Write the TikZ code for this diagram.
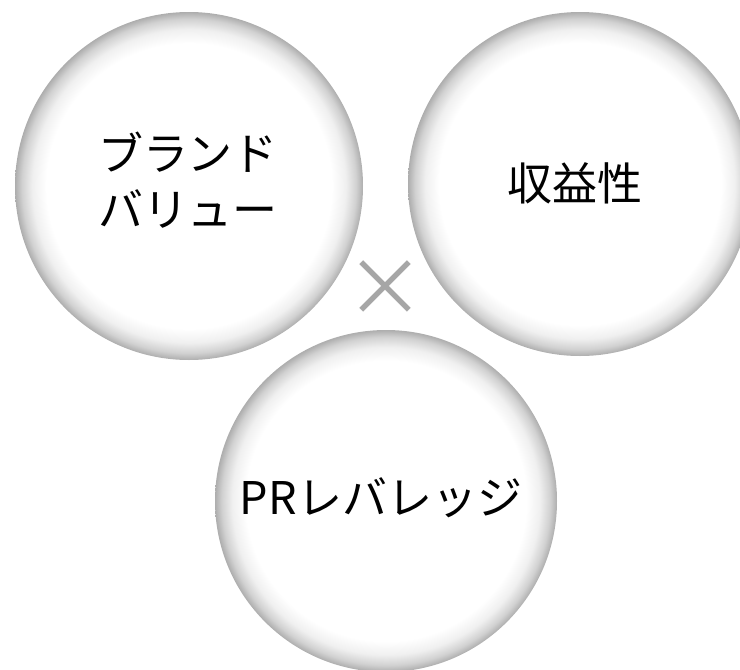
\documentclass[tikz,border=0pt]{standalone}
\usepackage{fontspec}
\newfontfamily\jpfont{Noto Sans CJK JP}
\pgfdeclareradialshading{rim}{\pgfpoint{0bp}{0bp}}{%
  color(0bp)=(white);
  color(20.5bp)=(white);
  color(22.5bp)=(black!6);
  color(24bp)=(black!18);
  color(25bp)=(black!32);
  color(50bp)=(black!32)}
\tikzset{
  ball/.style={circle, inner sep=0pt, minimum size=#1, shading=rim, align=center,
    font=\jpfont\fontsize{45}{56}\selectfont, text=black},
  timesmark/.style={inner sep=0pt, text=black!35, font=\jpfont\fontsize{80}{80}\selectfont}
}
\begin{document}
\begin{tikzpicture}[x=1pt,y=-1pt]
\useasboundingbox (0,0) rectangle (740,670);
\node[ball=348pt] (brand) at (189,186) {};
\node[ball=344pt] (profit) at (580,184) {};
\node[ball=342pt] (pr) at (386,501) {};
\node[align=center, inner sep=0pt, font=\jpfont\fontsize{45}{56}\selectfont] (brandtxt) at (188,180) {ブランド\\バリュー};
\node[inner sep=0pt, font=\jpfont\fontsize{45}{56}\selectfont] (profittxt) at (575,183) {収益性};
\node[inner sep=0pt, font=\jpfont\fontsize{45}{56}\selectfont] (prtxt) at (381,498) {PRレバレッジ};
\node[timesmark] (times) at (385,289) {×};
\end{tikzpicture}
\end{document}
